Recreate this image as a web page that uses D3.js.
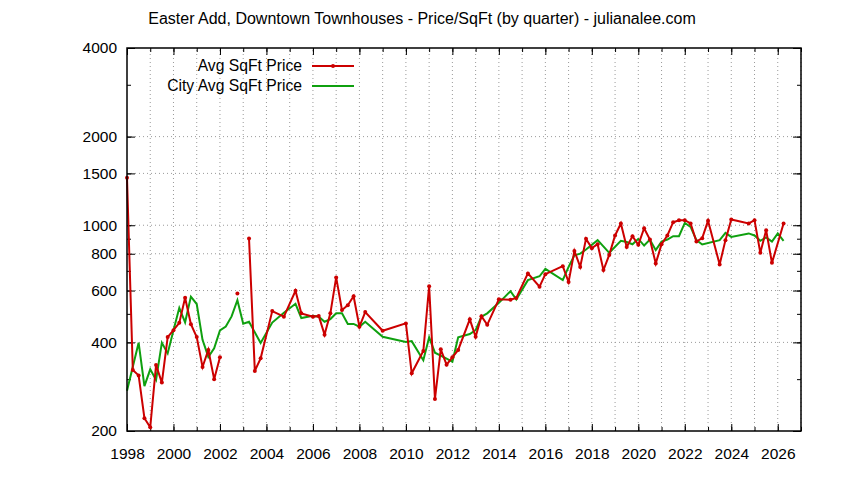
<!DOCTYPE html>
<html><head><meta charset="utf-8">
<script src="https://cdn.jsdelivr.net/npm/d3@7"></script>
<style>body{margin:0;background:#fff}svg{display:block}</style>
</head><body><svg id="chart" width="844" height="480"></svg>
<script>
const chartTitle = "Easter Add, Downtown Townhouses - Price/SqFt (by quarter) - julianalee.com";
const seriesNames = ["Avg SqFt Price", "City Avg SqFt Price"];

// Avg SqFt Price (null = gap in data)
const avgTimes = [1998.0,1998.25,1998.5,1998.75,1999.0,1999.25,1999.5,1999.75,2000.0,2000.25,2000.5,2000.75,2001.0,2001.25,2001.5,2001.75,2002.0,2002.25,
  2002.75,2003.0,
  2003.25,2003.5,2003.75,2004.25,2004.75,2005.25,2005.5,2006.0,2006.25,2006.5,2006.75,2007.0,2007.25,2007.5,2007.75,2008.0,2008.25,2009.0,
  2010.0,2010.25,2010.75,2011.0,2011.25,2011.5,2011.75,2012.0,2012.25,2012.75,2013.0,2013.25,2013.5,2014.0,2014.5,2014.75,2015.25,2015.75,2016.0,
  2016.75,2017.0,2017.25,2017.5,2017.75,2018.0,2018.25,2018.5,2018.75,2019.0,2019.25,2019.5,2019.75,2020.0,2020.25,2020.5,2020.75,2021.0,2021.25,
  2021.5,2021.75,2022.0,2022.25,2022.5,2022.75,2023.0,2023.5,2023.75,2024.0,2024.75,2025.0,2025.25,2025.5,2025.75,2026.25];
const avgValues = [1450,322,309,221,206,335,292,417,440,466,567,461,417,330,377,300,356,null,
  586,null,
  901,320,353,511,489,599,502,489,492,425,502,665,515,535,574,452,507,438,
  464,314,374,621,257,379,336,356,377,479,418,491,459,560,558,566,686,618,682,
  726,641,818,722,899,836,862,704,793,923,1014,844,918,858,977,894,742,862,923,
  1024,1040,1040,1014,880,904,1035,736,890,1046,1014,1040,806,962,745,1014];

// City Avg SqFt Price
const cityTimes = [1998.0,1998.5,1998.75,1999.0,1999.25,1999.5,1999.75,2000.0,2000.25,2000.5,2000.75,2001.0,2001.25,2001.5,2001.75,2002.0,2002.25,2002.5,2002.75,
  2003.0,2003.25,2003.75,2004.25,2004.75,2005.25,2005.5,2006.0,2006.25,2006.5,2006.75,2007.0,2007.25,2007.5,2007.75,2008.0,2008.25,2009.0,
  2010.0,2010.25,2010.75,2011.0,2011.25,2011.75,2012.0,2012.25,2012.75,2013.0,2013.25,2013.5,2014.0,2014.5,2014.75,2015.25,2015.75,2016.0,
  2016.75,2017.0,2017.25,2017.5,2017.75,2018.25,2018.75,2019.25,2019.5,2019.75,2020.0,2020.25,2020.5,2020.75,2021.0,2021.25,2021.5,2021.75,
  2022.0,2022.25,2022.5,2022.75,2023.5,2023.75,2024.0,2024.75,2025.0,2025.25,2025.5,2025.75,2026.0,2026.25];
const cityValues = [274,399,284,324,298,399,367,440,524,468,572,540,408,357,382,439,453,490,556,
  463,470,398,467,504,541,484,493,489,470,480,502,502,462,462,452,470,418,
  401,404,348,416,369,352,344,416,427,440,489,502,545,597,560,651,671,711,
  651,722,790,801,827,890,806,885,877,862,899,853,894,823,880,894,918,918,
  1018,987,890,860,890,942,913,938,923,885,909,880,938,885];

const xTickYears = d3.range(1998, 2028, 1);
const xLabelYears = d3.range(1998, 2028, 2);
const yTickValues = [200,300,400,500,600,700,800,900,1000,1500,2000,3000,4000];
const yLabelValues = [200,400,600,800,1000,1500,2000,4000];

const svg = d3.select("#chart");
const L = 127, R = 801, T = 48, B = 431;
const x = d3.scaleLinear().domain([1998, 2027]).range([L, R]);
const y = d3.scaleLog().domain([200, 4000]).range([B, T]);
const font = "'Liberation Sans', Arial, sans-serif";
const red = "#cc0000", green = "#0fa00f";

// grid
const grid = svg.append("g").attr("stroke", "#9a9a9a").attr("stroke-width", 1).attr("stroke-dasharray", "1,3");
xTickYears.filter(t => t > 1998).forEach(t => {
  grid.append("line").attr("x1", x(t)).attr("x2", x(t)).attr("y1", B).attr("y2", T);
});
yLabelValues.filter(v => v > 200 && v < 4000).forEach(v => {
  grid.append("line").attr("x1", L).attr("x2", R).attr("y1", y(v)).attr("y2", y(v));
});

// axes via d3
const xAxisB = d3.axisBottom(x).tickValues(xTickYears).tickSizeInner(-4).tickSizeOuter(0).tickFormat("");
const xAxisT = d3.axisTop(x).tickValues(xTickYears).tickSizeInner(-4).tickSizeOuter(0).tickFormat("");
const xAxisLab = d3.axisBottom(x).tickValues(xLabelYears).tickSizeInner(-7).tickSizeOuter(0).tickPadding(17).tickFormat(d3.format("d"));
const xAxisLabT = d3.axisTop(x).tickValues(xLabelYears).tickSizeInner(-7).tickSizeOuter(0).tickFormat("");
const yAxisL = d3.axisLeft(y).tickValues(yTickValues).tickSizeInner(-4).tickSizeOuter(0).tickFormat("");
const yAxisR = d3.axisRight(y).tickValues(yTickValues).tickSizeInner(-4).tickSizeOuter(0).tickFormat("");
const yAxisLab = d3.axisLeft(y).tickValues(yLabelValues).tickSizeInner(-8).tickSizeOuter(0).tickPadding(10).tickFormat(d3.format("d"));
const yAxisLabR = d3.axisRight(y).tickValues(yLabelValues).tickSizeInner(-8).tickSizeOuter(0).tickFormat("");

function styleAxis(g) {
  g.select(".domain").remove();
  g.selectAll(".tick line").attr("stroke", "#000").attr("stroke-width", 1);
  g.selectAll("text").attr("font-family", font).attr("font-size", 15.5).attr("fill", "#000");
}
svg.append("g").attr("transform", `translate(0,${B})`).call(xAxisB).call(styleAxis);
svg.append("g").attr("transform", `translate(0,${T})`).call(xAxisT).call(styleAxis);
svg.append("g").attr("transform", `translate(0,${B})`).call(xAxisLab).call(styleAxis);
svg.append("g").attr("transform", `translate(0,${T})`).call(xAxisLabT).call(styleAxis);
svg.append("g").attr("transform", `translate(${L},0)`).call(yAxisL).call(styleAxis);
svg.append("g").attr("transform", `translate(${R},0)`).call(yAxisR).call(styleAxis);
svg.append("g").attr("transform", `translate(${L},0)`).call(yAxisLab).call(styleAxis);
svg.append("g").attr("transform", `translate(${R},0)`).call(yAxisLabR).call(styleAxis);

// data
const avgData = avgTimes.map((t, i) => ({t, v: avgValues[i]}));
const cityData = cityTimes.map((t, i) => ({t, v: cityValues[i]}));
const line = d3.line().defined(d => d.v != null).x(d => x(d.t)).y(d => y(d.v));

svg.append("path").datum(cityData).attr("d", line).attr("fill", "none")
  .attr("stroke", green).attr("stroke-width", 2).attr("stroke-linejoin", "miter");
svg.append("path").datum(avgData).attr("d", line).attr("fill", "none")
  .attr("stroke", red).attr("stroke-width", 2).attr("stroke-linejoin", "miter");
svg.append("g").selectAll("circle").data(avgData.filter(d => d.v != null)).join("circle")
  .attr("cx", d => x(d.t)).attr("cy", d => y(d.v)).attr("r", 2).attr("fill", red);

// border
svg.append("rect").attr("x", L).attr("y", T).attr("width", R - L).attr("height", B - T)
  .attr("fill", "none").attr("stroke", "#000").attr("stroke-width", 1.5);

// title
svg.append("text").attr("x", 422).attr("y", 24).attr("text-anchor", "middle")
  .attr("font-family", font).attr("font-size", 16).text(chartTitle);

// legend
const leg = svg.append("g");
const legColors = [red, green];
seriesNames.forEach((n, i) => {
  const yy = 66 + i * 20;
  leg.append("text").attr("x", 302).attr("y", yy + 5).attr("text-anchor", "end")
    .attr("font-family", font).attr("font-size", 15.7).text(n);
  leg.append("line").attr("x1", 312).attr("x2", 354).attr("y1", yy).attr("y2", yy)
    .attr("stroke", legColors[i]).attr("stroke-width", 2);
  if (i === 0) leg.append("circle").attr("cx", 333).attr("cy", yy).attr("r", 2).attr("fill", red);
});
</script></body></html>
